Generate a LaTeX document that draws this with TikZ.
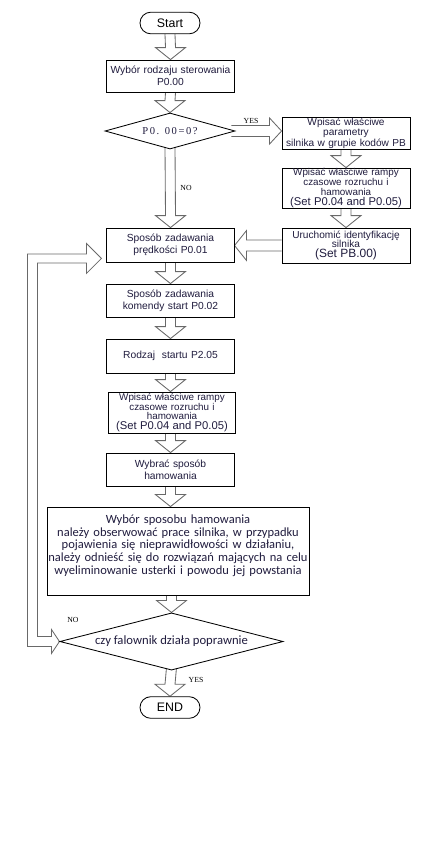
\documentclass[tikz,border=0pt]{standalone}
\usepackage{fontspec}
\usepackage{tikz}
\usetikzlibrary{calc,shapes.geometric,backgrounds}
\newfontfamily\arialf{Liberation Sans}
\newfontfamily\serf{Liberation Serif}
\newfontfamily\serfw[LetterSpace=15]{Liberation Serif}
\newfontfamily\calf{Carlito}
\definecolor{InkNavy}{RGB}{32,28,62}
\definecolor{ArrGrey}{RGB}{105,105,105}

% hollow block arrows, coordinates in pixels (y downwards)
\newcommand{\blkdown}[2]{%
  \draw[blockarr] ($#1+(-5,0)$) -- ($#2+(-5,-12)$) -- ($#2+(-15,-12)$)
    -- #2 -- ($#2+(15,-12)$) -- ($#2+(5,-12)$) -- ($#1+(5,0)$);}
\newcommand{\blkright}[2]{%
  \draw[blockarr] ($#1+(0,-5.5)$) -- ($#2+(-12,-5.5)$) -- ($#2+(-12,-13)$)
    -- #2 -- ($#2+(-12,13)$) -- ($#2+(-12,5.5)$) -- ($#1+(0,5.5)$);}
\newcommand{\blkleft}[2]{%
  \draw[blockarr] ($#1+(0,-5.5)$) -- ($#2+(12,-5.5)$) -- ($#2+(12,-15)$)
    -- #2 -- ($#2+(12,15)$) -- ($#2+(12,5.5)$) -- ($#1+(0,5.5)$);}

\tikzset{
  stepbox/.style={draw,line width=0.6pt,fill=white,align=center,inner sep=0pt,
    text=InkNavy,minimum width=3.18cm,minimum height=0.84cm,text width=3.1cm,
    font=\arialf\fontsize{7.3}{8.4}\selectfont},
  tallbox/.style={stepbox,minimum height=1.0cm,font=\arialf\fontsize{7}{6.9}\selectfont},
  pill/.style={draw,line width=0.6pt,fill=white,rounded corners=0.27cm,
    minimum width=1.5cm,minimum height=0.54cm,inner sep=0pt,
    font=\arialf\fontsize{8.8}{9}\selectfont},
  query/.style={draw,diamond,line width=0.6pt,fill=white,inner sep=0pt,text=InkNavy},
  yesno/.style={font=\serf\fontsize{5.5}{6}\selectfont,inner sep=0pt},
  blockarr/.style={draw=ArrGrey,line width=0.6pt,fill=white,line join=miter},
}

\begin{document}
\begin{tikzpicture}[x=0.025cm,y=-0.025cm]
  \useasboundingbox (0,0) rectangle (421,850);

  % main column
  \node[pill] (start) at (170,23) {Start};
  \node[stepbox,minimum height=0.8cm] (wybor) at (170.5,76)
    {Wybór rodzaju sterowania\\P0.00};
  \node[query,minimum width=3.25cm,minimum height=0.9cm,aspect=3.6,
    font=\serfw\fontsize{7.5}{8}\selectfont] (q1) at (170,131) {P0. 00=0?};
  \node[stepbox,minimum height=0.85cm] (sp01) at (170.5,245)
    {Sposób zadawania\\prędkości P0.01};
  \node[stepbox,minimum height=0.825cm] (sp02) at (170.5,300.5)
    {Sposób zadawania\\komendy start P0.02};
  \node[stepbox,minimum height=0.85cm] (rodzaj) at (170.5,356)
    {Rodzaj\ \ startu P2.05};
  \node[tallbox,minimum height=1.025cm] (rampy2) at (172,412.5)
    {Wpisać właściwe rampy\\czasowe rozruchu i\\hamowania\\
     {\fontsize{8}{8}\selectfont(Set P0.04 and P0.05)}};
  \node[stepbox,minimum height=0.825cm] (hamow) at (170.5,469.5)
    {Wybrać sposób\\hamowania};
  \node[stepbox,minimum width=6.55cm,text width=6.55cm,minimum height=2.2cm,
    font=\calf\fontsize{8.9}{9.1}\selectfont] (obserw) at (178,551)
    {Wybór sposobu hamowania\\
     należy obserwować prace silnika, w przypadku\\
     pojawienia się nieprawidłowości w działaniu,\\
     należy odnieść się do rozwiązań mających na celu\\
     wyeliminowanie usterki i powodu jej powstania\\ \mbox{}};
  \node[query,minimum width=5.58cm,minimum height=1.43cm,aspect=3.9,
    font=\calf\fontsize{9}{9}\selectfont] (q2) at (171.5,641.5)
    {czy falownik działa poprawnie};
  \node[pill] (stop) at (170,707.5) {END};

  % right column
  \node[stepbox,minimum width=3.2cm,minimum height=0.8cm,
    font=\arialf\fontsize{7.2}{7.5}\selectfont] (param) at (346,133)
    {Wpisać właściwe\\parametry\\silnika w grupie kodów PB};
  \node[tallbox,minimum width=3.2cm] (rampy1) at (346,188)
    {Wpisać właściwe rampy\\czasowe rozruchu i\\hamowania\\
     {\fontsize{8}{8}\selectfont(Set P0.04 and P0.05)}};
  \node[stepbox,minimum width=3.2cm,minimum height=0.875cm,
    font=\arialf\fontsize{7.2}{7.1}\selectfont] (ident) at (346,245.5)
    {Uruchomić identyfikację\\silnika\\{\fontsize{8.5}{8}\selectfont(Set PB.00)}};

  % labels
  \node[yesno] (yes1) at (251,121) {YES};
  \node[yesno] (no1) at (186,188) {NO};
  \node[yesno] (no2) at (73,620) {NO};
  \node[yesno] (yes2) at (196,680) {YES};

  \begin{pgfonlayer}{background}
    \fill[white] (0,0) rectangle (421,850);
    \blkdown{(start.south)}{(wybor.north)}
    \blkdown{(wybor.south)}{(q1.north)}
    \blkright{($(q1.east)+(-4,0)$)}{(q1.east -| param.west)}
    \blkdown{(param.south)}{(rampy1.north)}
    \blkdown{(rampy1.south)}{(ident.north)}
    \blkleft{(ident.west)}{(ident.west -| sp01.east)}
    \blkdown{($(q1.south)+(0,-3)$)}{(sp01.north)}
    \blkdown{(sp01.south)}{(sp02.north)}
    \blkdown{(sp02.south)}{(rodzaj.north)}
    \blkdown{(rodzaj.south)}{(rodzaj.south |- rampy2.north)}
    \blkdown{(rampy2.south -| hamow.north)}{(hamow.north)}
    \blkdown{(hamow.south)}{(hamow.south |- obserw.north)}
    \blkdown{(q2.north |- obserw.south)}{(q2.north)}
    \blkdown{($(q2.south)+(0,-3)$)}{(stop.north)}
    % feedback from the lower decision
    \coordinate (fbtip) at ($(sp01.south west)+(-5,-4)$);
    \draw[blockarr] ($(q2.west)+(-8,-5)$) -- ++(-14,0)
      |- ($(fbtip)+(-15,4.5)$) -- ($(fbtip)+(-15,15)$) -- (fbtip)
      -- ($(fbtip)+(-15,-15)$) -- ($(fbtip)+(-15,-4.5)$)
      -| ($(q2.west)+(-32,5)$) -- ($(q2.west)+(-8,5)$)
      -- ($(q2.west)+(-8,12)$) -- (q2.west) -- ($(q2.west)+(-8,-12)$) -- cycle;
  \end{pgfonlayer}
\end{tikzpicture}
\end{document}
